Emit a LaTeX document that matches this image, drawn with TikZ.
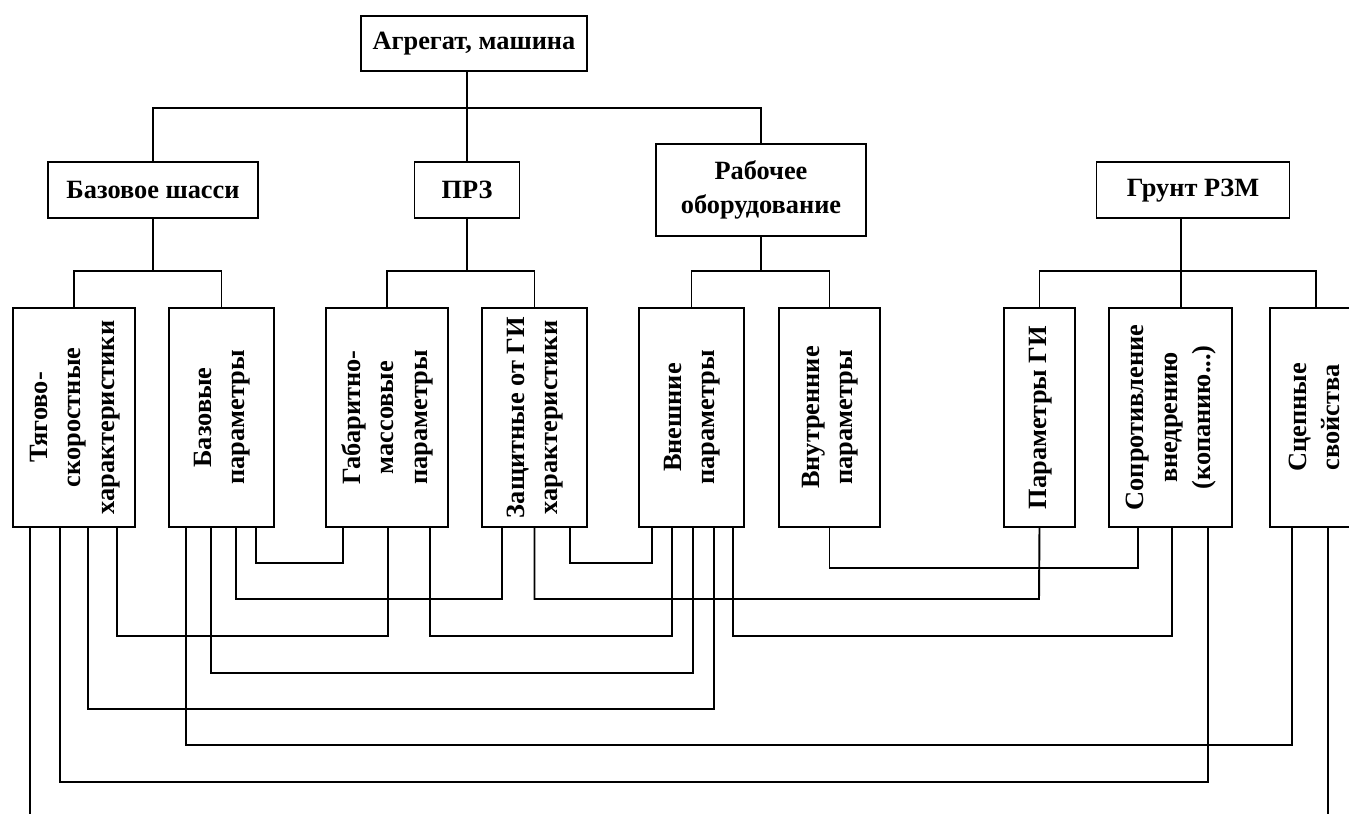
\documentclass[tikz,border=0pt]{standalone}
\usepackage{fontspec}
\setmainfont{Liberation Serif}
\usepackage{graphicx}
\usepackage{tikz}
\newcommand{\vtxt}[1]{\rotatebox{90}{\begin{tabular}{@{}c@{}}#1\end{tabular}}}

\begin{document}
\begin{tikzpicture}[x=0.02cm, y=-0.02cm, line width=1.1pt,
  every node/.style={font=\bfseries\fontsize{15}{19}\selectfont},
  blk/.style={draw, align=center, inner sep=0pt, minimum height=1.12cm},
  lvl/.style={draw, inner sep=0pt, minimum height=4.38cm}]
 \useasboundingbox (0,0) rectangle (1349,814);
 % верхние блоки
 \node[blk, minimum width=4.52cm, minimum height=1.1cm] (agr) at (474,43.5) {Агрегат, машина};
 \node[blk, minimum width=4.2cm] (baza) at (153,190) {Базовое шасси};
 \node[blk, minimum width=2.1cm] (prz) at (467,190) {ПРЗ};
 \node[blk, minimum width=4.2cm, minimum height=1.84cm] (rab) at (761,190) {Рабочее\\оборудование};
 \node[blk, minimum width=3.86cm] (grunt) at (1193,190) {\strut Грунт РЗМ};
 % нижние блоки
 \node[lvl, minimum width=2.44cm] (tyag) at (74,417.5) {\vtxt{Тягово-\\скоростные\\характеристики}};
 \node[lvl, minimum width=2.1cm] (bazpar) at (221.5,417.5) {\vtxt{Базовые\\параметры}};
 \node[lvl, minimum width=2.44cm] (gabar) at (387,417.5) {\vtxt{Габаритно-\\массовые\\параметры}};
 \node[lvl, minimum width=2.1cm] (zasch) at (534.5,417.5) {\vtxt{Защитные от ГИ\\характеристики}};
 \node[lvl, minimum width=2.1cm] (vnesh) at (691.5,417.5) {\vtxt{Внешние\\параметры}};
 \node[lvl, minimum width=2.02cm] (vnutr) at (829.5,417.5) {\vtxt{Внутренние\\параметры}};
 \node[lvl, minimum width=1.42cm] (pargi) at (1039.5,417.5) {\vtxt{Параметры ГИ}};
 \node[lvl, minimum width=2.46cm] (sopr) at (1170.5,417.5) {\vtxt{Сопротивление\\внедрению\\(копанию...)}};
 \node[lvl, minimum width=1.84cm] (scep) at (1316,417.5) {\vtxt{Сцепные\\свойства}};
 % дерево
 \draw (agr.south -| prz.north) -- (prz.north);
 \draw (baza.north) -- (baza.north |- 0,108) -| (rab.north);
 \draw (baza.south) -- (baza.south |- 0,271);
 \draw (tyag.north) -- (tyag.north |- 0,271) -| (bazpar.north);
 \draw (prz.south) -- (prz.south |- 0,271);
 \draw (gabar.north) -- (gabar.north |- 0,271) -| (zasch.north);
 \draw (rab.south) -- (rab.south |- 0,271);
 \draw (vnesh.north) -- (vnesh.north |- 0,271) -| (vnutr.north);
 \draw (grunt.south -| 1181,0) -- (sopr.north -| 1181,0);
 \draw (pargi.north) -- (pargi.north |- 0,271) -| (scep.north);
 % связи между параметрами
 \draw (bazpar.south -| 256,0) |- (343,563) -- (gabar.south -| 343,0);
 \draw (zasch.south -| 570,0) |- (652,563) -- (vnesh.south -| 652,0);
 \draw (vnutr.south) |- (1138,568) -- (sopr.south -| 1138,0);
 \draw (bazpar.south -| 236,0) |- (502,599) -- (zasch.south -| 502,0);
 \draw (zasch.south) |- (1039,599) -- (pargi.south);
 \draw (tyag.south -| 117,0) |- (388,636) -- (gabar.south -| 388,0);
 \draw (gabar.south -| 430,0) |- (672,636) -- (vnesh.south -| 672,0);
 \draw (vnesh.south -| 733,0) |- (1172,636) -- (sopr.south -| 1172,0);
 \draw (bazpar.south -| 211,0) |- (693,673) -- (vnesh.south -| 693,0);
 \draw (tyag.south -| 88,0) |- (714,709) -- (vnesh.south -| 714,0);
 \draw (bazpar.south -| 186,0) |- (1292,745) -- (scep.south -| 1292,0);
 \draw (tyag.south -| 60,0) |- (1208,782) -- (sopr.south -| 1208,0);
 % свободные концы
 \coordinate (endl) at (30,820);
 \coordinate (endr) at (1328,820);
 \draw (tyag.south -| endl) -- (endl);
 \draw (scep.south -| endr) -- (endr);
\end{tikzpicture}
\end{document}
